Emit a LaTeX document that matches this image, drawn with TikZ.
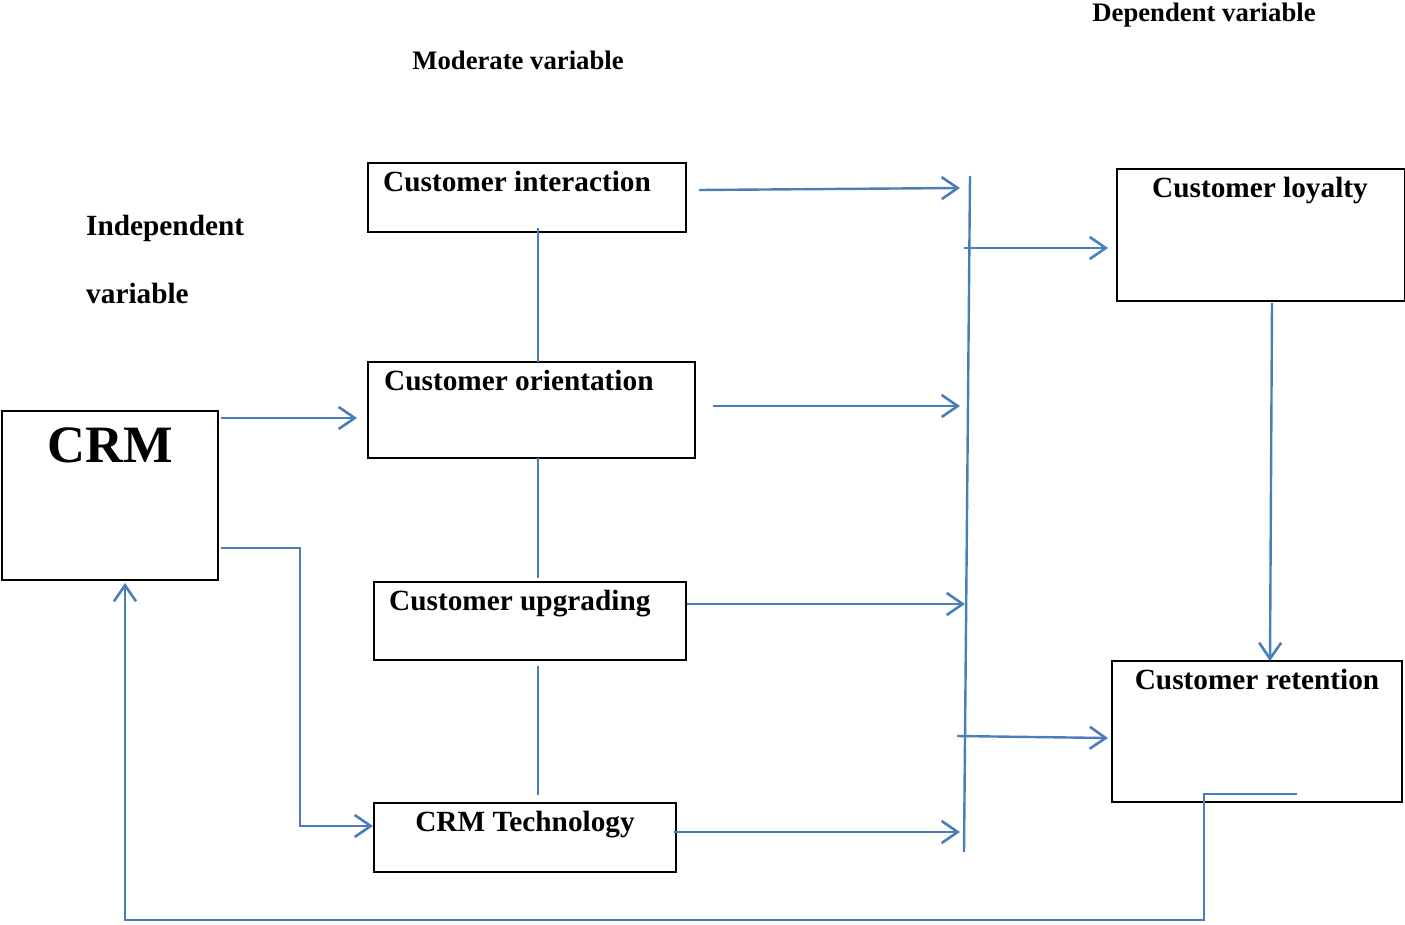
\documentclass[tikz,border=0pt]{standalone}
\usepackage{fontspec}
\setmainfont{Liberation Serif}
\usetikzlibrary{arrows.meta,calc}
\definecolor{lineblue}{RGB}{74,126,187}
\begin{document}
\begin{tikzpicture}[x=1pt,y=-1pt,
  box/.style={draw=black,line width=2.2pt,inner sep=0pt,outer sep=0pt,anchor=north west},
  lbl/.style={font=\fontsize{29.3}{34}\selectfont\bfseries,inner sep=0pt,anchor=base},
  head/.style={font=\fontsize{26.7}{31}\selectfont\bfseries,inner sep=0pt,anchor=base},
  conn/.style={draw=lineblue,line width=2.4pt},
  arr/.style={conn,-{Straight Barb[length=16pt,width=22pt,line width=2.6pt]}}]
\useasboundingbox (0,0) rectangle (1405,924);

% boxes
\node[box,minimum width=216pt,minimum height=169pt] (crm) at (2,411) {};
\node[box,minimum width=318pt,minimum height=69pt] (ci) at (368,163) {};
\node[box,minimum width=327pt,minimum height=96pt] (co) at (368,362) {};
\node[box,minimum width=312pt,minimum height=78pt] (cu) at (374,582) {};
\node[box,minimum width=302pt,minimum height=69pt] (ct) at (374,803) {};
\node[box,minimum width=288pt,minimum height=132pt] (cl) at (1117,169) {};
\node[box,minimum width=290pt,minimum height=141pt] (cr) at (1112,661) {};

% texts
\node[font=\fontsize{52.5}{60}\selectfont\bfseries,inner sep=0pt,anchor=base] (crmt) at (110,462) {CRM};
\node[lbl,anchor=base west] (cit) at (383,191) {Customer interaction};
\node[lbl,anchor=base west] (cot) at (384,390) {Customer orientation};
\node[lbl,anchor=base west] (cut) at (389,610) {Customer upgrading};
\node[lbl] (ctt) at (525,831) {CRM Technology};
\node[lbl] (clt) at (1260,197) {Customer loyalty};
\node[lbl] (crt) at (1257,689) {Customer retention};
\node[head] (dep) at (1204,21) {Dependent variable};
\node[head] (mod) at (518,69) {Moderate variable};
\node[lbl,anchor=base west] (ind1) at (86,235) {Independent};
\node[lbl,anchor=base west] (ind2) at (86,303) {variable};

% bus line
\coordinate (bt) at (970,176);
\coordinate (bb) at (964,852);
\draw[conn] (bt) -- (bb);

% arrows into bus
\coordinate (a1) at (699,190);
\coordinate (b1) at (960,188);
\coordinate (a2) at (713,406);
\coordinate (b2) at (960,406);
\coordinate (a3) at (687,604);
\coordinate (b3) at (965,604);
\coordinate (a4) at (674,832);
\coordinate (b4) at (960,832);
\draw[arr] (a1) -- (b1);
\draw[arr] (a2) -- (b2);
\draw[arr] (a3) -- (b3);
\draw[arr] (a4) -- (b4);

% bus to dependents
\coordinate (s1) at (964,248);
\coordinate (e1) at (1108,248);
\coordinate (s2) at (957,736);
\coordinate (e2) at (1108,738);
\draw[arr] (s1) -- (e1);
\draw[arr] (s2) -- (e2);

% loyalty to retention
\coordinate (l1) at (1272,303);
\coordinate (l2) at (1270,661);
\draw[arr] (l1) -- (l2);

% moderate links
\coordinate (m1) at (538,228);
\coordinate (m2) at (538,362);
\coordinate (m3) at (538,458);
\coordinate (m4) at (538,578);
\coordinate (m5) at (538,666);
\coordinate (m6) at (538,795);
\draw[conn] (m1) -- (m2);
\draw[conn] (m3) -- (m4);
\draw[conn] (m5) -- (m6);

% CRM links
\coordinate (c1) at (221,418);
\coordinate (c2) at (357,418);
\draw[arr] (c1) -- (c2);
\coordinate (d1) at (221,548);
\coordinate (d2) at (373,826);
\draw[arr] (d1) -- (300,548) -- (300,826) -- (d2);
\coordinate (f1) at (1297,794);
\coordinate (f2) at (125,583);
\draw[arr] (f1) -- (1204,794) -- (1204,920) -- (125,920) -- (f2);
\end{tikzpicture}
\end{document}
